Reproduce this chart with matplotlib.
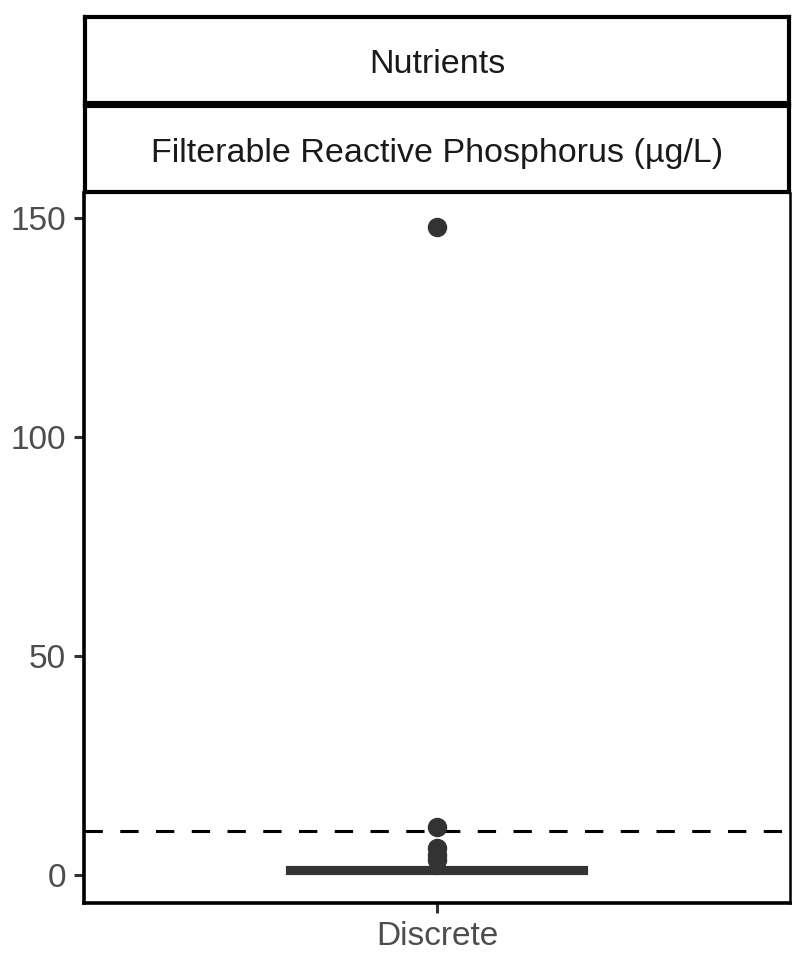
import matplotlib.pyplot as plt

plt.rcParams['font.family'] = ['Liberation Sans', 'DejaVu Sans']

category = "Discrete"
facet_outer = "Nutrients"
facet_inner = "Filterable Reactive Phosphorus (\u00b5g/L)"
box_stats = dict(med=1.0, q1=0.5, q3=1.5, whislo=0.9, whishi=1.2)
outliers = [148, 11, 6.2, 4.6, 3.4]
threshold = 10
yticks = [0, 50, 100, 150]

W, H = 812, 963
fig = plt.figure(figsize=(W / 100, H / 100), dpi=100)

def box(l, t, r, b):
    return [l / W, 1 - b / H, (r - l) / W, (b - t) / H]

ax = fig.add_axes(box(84, 193, 790, 903))
stats = [dict(box_stats, fliers=outliers, label=category)]
ax.bxp(stats, positions=[1], widths=0.507, patch_artist=True, showcaps=False,
       boxprops=dict(facecolor="white", edgecolor="#333333", linewidth=3),
       medianprops=dict(color="#333333", linewidth=3),
       whiskerprops=dict(color="#333333", linewidth=3),
       flierprops=dict(marker="o", markersize=13, markerfacecolor="#333333",
                       markeredgecolor="#333333"))
ax.axhline(threshold, color="black", linewidth=2.2, dashes=(6, 5.7), zorder=1)
ax.set_xlim(0.4, 1.6)
ax.set_ylim(-6.4, 155.7)
ax.set_yticks(yticks)
ax.set_xticks([1])
ax.set_xticklabels([category])
ax.tick_params(labelsize=24, colors="#333333", labelcolor="#4d4d4d",
               length=7, width=2.2, pad=6)
for s in ["left", "bottom"]:
    ax.spines[s].set_linewidth(2.6)
ax.spines["right"].set_linewidth(1.8)
ax.spines["top"].set_visible(False)

for (t, b, label) in [(17, 103, facet_outer), (106, 192, facet_inner)]:
    sax = fig.add_axes(box(85, t, 789, b))
    sax.set_xticks([])
    sax.set_yticks([])
    for s in sax.spines.values():
        s.set_linewidth(3)
    sax.text(0.5, 0.45, label, ha="center", va="center", fontsize=24.5,
             color="#1a1a1a", transform=sax.transAxes)

fig.savefig("out.png", dpi=100)
